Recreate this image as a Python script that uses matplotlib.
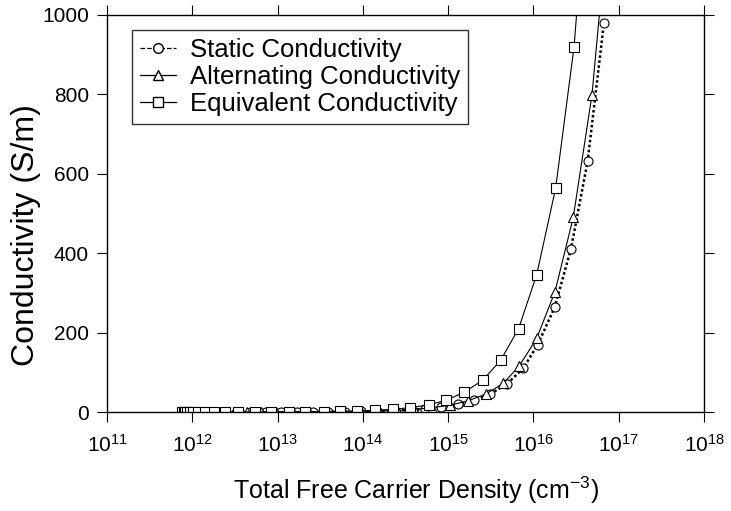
import numpy as np
import matplotlib
matplotlib.use('Agg')
import matplotlib.pyplot as plt
from matplotlib.lines import Line2D

plt.rcParams['font.family'] = ['Liberation Sans', 'DejaVu Sans']
plt.rcParams['mathtext.fontset'] = 'custom'
plt.rcParams['mathtext.rm'] = 'Liberation Sans'
plt.rcParams['mathtext.default'] = 'regular'

# Static conductivity (circles)
n_static = [7.6e11, 7.9e11, 8.3e11, 9.0e11, 1.0e12, 1.15e12, 1.4e12, 1.8e12, 2.45e12,
            3.4e12, 4.9e12, 7.3e12, 1.1e13, 1.67e13, 2.57e13, 3.95e13, 6.1e13, 9.4e13,
            1.45e14, 2.25e14, 3.5e14, 5.4e14, 8.3e14, 1.29e15, 2.0e15, 3.09e15, 4.85e15,
            7.59e15, 1.12e16, 1.77e16, 2.75e16, 4.32e16, 6.71e16]
s_static = [0.01, 0.01, 0.01, 0.01, 0.01, 0.02, 0.02, 0.03, 0.04,
            0.05, 0.07, 0.11, 0.16, 0.24, 0.4, 0.6, 0.9, 1.4,
            2.1, 3.3, 5.1, 7.9, 12, 19, 29, 45, 70,
            110, 169, 263, 410, 631, 979]

# Alternating conductivity (triangles)
n_alt = [7.7e11, 8.1e11, 8.7e11, 9.7e11, 1.12e12, 1.38e12, 1.75e12, 2.3e12, 3.1e12,
         4.4e12, 6.4e12, 9.7e12, 1.5e13, 2.35e13, 3.75e13, 6.0e13, 9.6e13, 1.55e14,
         2.5e14, 4.0e14, 6.5e14, 1.05e15, 1.7e15, 2.75e15, 4.43e15, 6.82e15, 1.09e16,
         1.79e16, 2.93e16, 4.85e16, 7.9e16]
s_alt = [0.01, 0.01, 0.01, 0.02, 0.02, 0.02, 0.03, 0.04, 0.05,
         0.07, 0.1, 0.16, 0.25, 0.39, 0.6, 1.0, 1.6, 2.5,
         4.1, 6.6, 11, 17, 28, 45, 72, 116, 185,
         303, 490, 797, 1290]

# Equivalent conductivity (squares)
n_eq = [7.57e11, 7.9e11, 8.3e11, 8.7e11, 9.3e11, 1.02e12, 1.17e12, 1.41e12, 1.82e12,
        2.4e12, 3.39e12, 5.37e12, 8.3e12, 1.35e13, 2.09e13, 3.47e13, 5.4e13, 8.5e13,
        1.38e14, 2.24e14, 3.55e14, 5.96e14, 9.55e14, 1.55e15, 2.54e15, 4.12e15, 6.7e15,
        1.09e16, 1.82e16, 2.99e16, 4.9e16]
s_eq = [0.02, 0.02, 0.03, 0.03, 0.03, 0.03, 0.04, 0.04, 0.06,
        0.07, 0.1, 0.2, 0.3, 0.4, 0.6, 1.1, 1.7, 2.6,
        4.2, 6.9, 11, 18, 30, 50, 80, 130, 210,
        345, 563, 918, 1500]

x_ticks = [1e11, 1e12, 1e13, 1e14, 1e15, 1e16, 1e17, 1e18]
x_tick_labels = ['$10^{11}$', '$10^{12}$', '$10^{13}$', '$10^{14}$',
                 '$10^{15}$', '$10^{16}$', '$10^{17}$', '$10^{18}$']
y_ticks = [0, 200, 400, 600, 800, 1000]

fig = plt.figure(figsize=(7.31, 5.11), dpi=100)
ax = fig.add_axes([0.1464, 0.1937, 0.8167, 0.7779])

ax.plot(n_static, s_static, color='black', lw=1.8, dashes=(1, 1),
        marker='o', ms=6.5, mfc='white', mec='black', mew=0.8)
ax.plot(n_alt, s_alt, color='black', lw=0.8,
        marker='^', ms=7, mfc='white', mec='black', mew=0.8)
ax.plot(n_eq, s_eq, color='black', lw=0.8,
        marker='s', ms=7, mfc='white', mec='black', mew=0.8)

ax.set_xscale('log')
ax.set_xlim(1e11, 1e18)
ax.set_ylim(0, 1000)
ax.set_xticks(x_ticks)
ax.set_xticklabels(x_tick_labels)
ax.minorticks_off()
ax.set_yticks(y_ticks)

ax.tick_params(direction='out', length=7, width=0.8, labelsize=15,
               top=True, right=True, pad=6)
ax.tick_params(axis='x', pad=9)
for sp in ax.spines.values():
    sp.set_linewidth(1.0)

ax.set_xlabel('Total Free Carrier Density (cm$^{-3}$)', fontsize=18, labelpad=13)
ax.xaxis.label.set_x(0.518)
ax.set_ylabel('Conductivity (S/m)', fontsize=23, labelpad=1)
ax.yaxis.label.set_y(0.445)

handles = [
    Line2D([], [], color='black', lw=0.9, ls='--', marker='o', ms=7, mfc='white', mec='black'),
    Line2D([], [], color='black', lw=0.9, marker='^', ms=7, mfc='white', mec='black'),
    Line2D([], [], color='black', lw=0.9, marker='s', ms=7, mfc='white', mec='black'),
]
labels = ['Static Conductivity', 'Alternating Conductivity', 'Equivalent Conductivity']
leg = ax.legend(handles, labels, loc='upper left', bbox_to_anchor=(0.042, 0.961),
                borderaxespad=0, fontsize=18.5, frameon=True, fancybox=False,
                edgecolor='black', handlelength=1.4, handletextpad=0.55,
                labelspacing=0.12, borderpad=0.3)
leg.get_frame().set_linewidth(1.0)

fig.savefig('out.png', dpi=100)
